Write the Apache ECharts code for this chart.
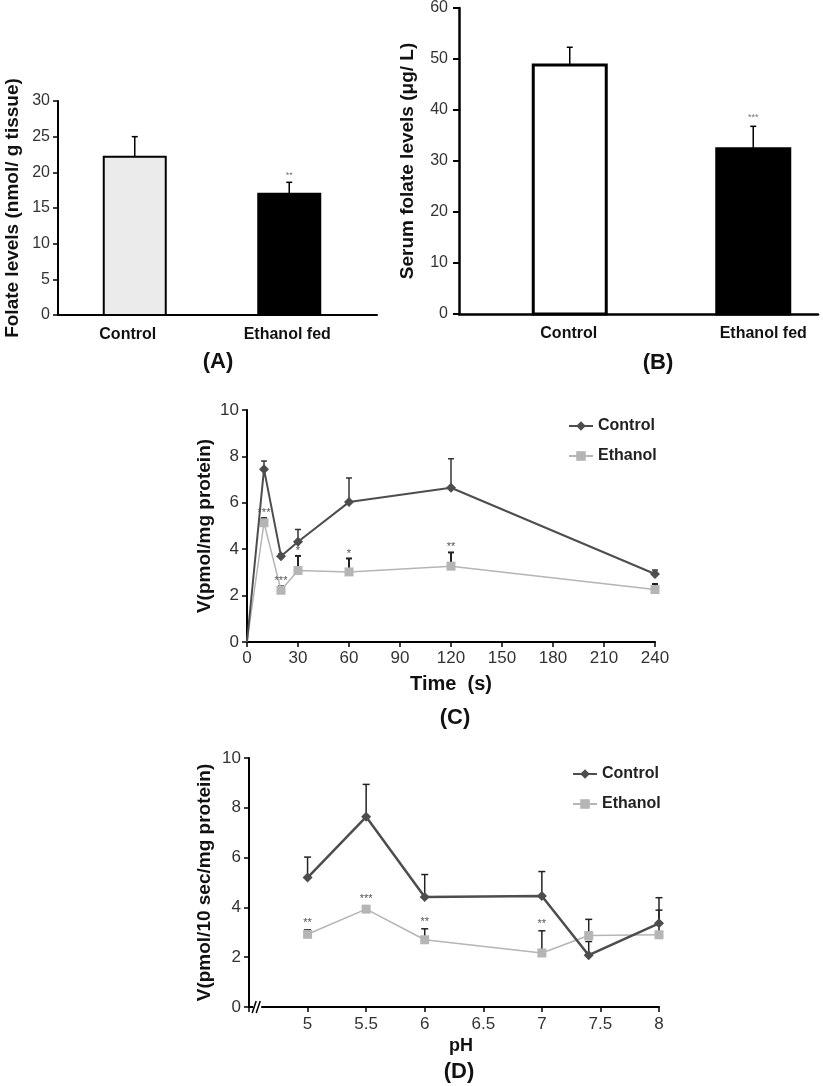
<!DOCTYPE html>
<html>
<head>
<meta charset="utf-8">
<title>Folate panels</title>
<script src="https://cdn.jsdelivr.net/npm/echarts@6/dist/echarts.min.js"></script>
<style>
  html, body { margin: 0; padding: 0; background: #fff; }
  #chart { width: 823px; height: 1086px; }
</style>
</head>
<body>
<div id="chart"></div>
<script>
// panel A - liver folate
const catsA = ['Control', 'Ethanol fed'];
const meanA = [22.2, 17.0];
const sdA = [2.8, 1.6];
const starsA = ['', '**'];

// panel B - serum folate
const catsB = ['Control', 'Ethanol fed'];
const meanB = [48.8, 32.4];
const sdB = [3.5, 4.4];
const starsB = ['', '***'];

// panel C - uptake vs time
const timeC = [0, 10, 20, 30, 60, 120, 240];
const ctrlC = [0, 7.45, 3.7, 4.32, 6.03, 6.65, 2.93];
const ctrlSdC = [0, 0.35, 0.1, 0.53, 1.04, 1.25, 0.17];
const ethC = [0, 5.14, 2.23, 3.08, 3.02, 3.27, 2.26];
const ethSdC = [0, 0.2, 0.17, 0.63, 0.58, 0.59, 0.24];
const starsC = ['', '***', '***', '*', '*', '**', '*'];

// panel D - uptake vs pH
const phD = [5, 5.5, 6, 7, 7.4, 8];
const ctrlD = [5.2, 7.64, 4.42, 4.46, 2.08, 3.36];
const ctrlSdD = [0.82, 1.3, 0.9, 0.98, 0.55, 1.03];
const ethD = [2.92, 3.93, 2.7, 2.17, 2.87, 2.9];
const ethSdD = [0.18, 0.12, 0.44, 0.89, 0.65, 0.99];
const starsD = ['**', '***', '**', '**', '', ''];

const FONT = 'Liberation Sans';
const DARK = '#4d4d4d';
const LIGHT = '#b5b5b5';

// bar look per panel
const barShiftA = [-3, -8];
const barShiftB = [21, 25];

function barRender(width, shift, fills, border) {
    return function (params, api) {
        const i = params.dataIndex;
        const top = api.coord([api.value(0), api.value(1)]);
        const base = api.coord([api.value(0), 0]);
        return {
            type: 'rect',
            shape: { x: top[0] + shift[i] - width / 2, y: top[1], width: width, height: base[1] - top[1] },
            style: { fill: fills[i], stroke: '#000', lineWidth: border }
        };
    };
}

function errRender(shift, cap, color, lw) {
    return function (params, api) {
        const sd = api.value(2);
        if (!sd) return null;
        const i = params.dataIndex;
        const dx = shift ? shift[i] : 0;
        const p = api.coord([api.value(0), api.value(1)]);
        const t = api.coord([api.value(0), api.value(1) + sd]);
        const x = p[0] + dx;
        return {
            type: 'group',
            children: [
                { type: 'line', shape: { x1: x, y1: p[1], x2: x, y2: t[1] }, style: { stroke: color, lineWidth: lw } },
                { type: 'line', shape: { x1: x - cap, y1: t[1], x2: x + cap, y2: t[1] }, style: { stroke: color, lineWidth: lw } }
            ]
        };
    };
}

function starRender(stars, shift, size, color, lift) {
    return function (params, api) {
        const i = params.dataIndex;
        if (!stars[i]) return null;
        const dx = shift ? shift[i] : 0;
        const t = api.coord([api.value(0), api.value(1) + api.value(2)]);
        return {
            type: 'text',
            x: t[0] + dx,
            y: t[1] - lift,
            style: { text: stars[i], fontSize: size, fontFamily: FONT, fill: color, align: 'center', verticalAlign: 'middle' }
        };
    };
}

function valueAxisBase(extra) {
    return Object.assign({
        splitLine: { show: false },
        axisLine: { show: true, lineStyle: { color: '#000', width: 2 } },
        axisTick: { show: true, length: 5, lineStyle: { color: '#000', width: 1.5 } },
        axisLabel: { fontFamily: FONT, fontSize: 17, color: '#333', margin: 8 },
        nameLocation: 'middle',
        nameTextStyle: { fontFamily: FONT, fontSize: 19, fontWeight: 'bold', color: '#111' }
    }, extra);
}

const triples = (xs, ys, sds) => xs.map((x, i) => [x, ys[i], sds[i]]);

const chart = echarts.init(document.getElementById('chart'));
chart.setOption({
    animation: false,
    backgroundColor: '#fff',
    textStyle: { fontFamily: FONT },
    grid: [
        { left: 58, top: 101, width: 319, height: 214 },
        { left: 459, top: 8, width: 359, height: 306 },
        { left: 247, top: 410, width: 408, height: 232 },
        { left: 249, top: 758, width: 410, height: 249 }
    ],
    xAxis: [
        {
            gridIndex: 0, type: 'category', data: catsA,
            axisLine: { lineStyle: { color: '#000', width: 2 } },
            axisTick: { length: 5, lineStyle: { color: '#000', width: 2 } },
            axisLabel: { fontFamily: FONT, fontSize: 16, fontWeight: 'bold', color: '#111', margin: 12, padding: [0, 20, 0, 0] }
        },
        {
            gridIndex: 1, type: 'category',
            data: [
                { value: catsB[0], textStyle: { padding: [0, 0, 0, 40] } },
                { value: catsB[1], textStyle: { padding: [0, 0, 0, 70] } }
            ],
            axisLine: { lineStyle: { color: '#000', width: 2.5 } },
            axisTick: { length: 5, lineStyle: { color: '#000', width: 2 } },
            axisLabel: { fontFamily: FONT, fontSize: 16, fontWeight: 'bold', color: '#111', margin: 12 }
        },
        valueAxisBase({
            gridIndex: 2, type: 'value', min: 0, max: 240, interval: 30,
            name: 'Time  (s)', nameGap: 32,
            nameTextStyle: { fontFamily: FONT, fontSize: 20, fontWeight: 'bold', color: '#111' }
        }),
        valueAxisBase({
            gridIndex: 3, type: 'value', min: 4.5, max: 8, interval: 0.5,
            axisLabel: { fontFamily: FONT, fontSize: 17, color: '#333', margin: 9, formatter: v => (v === 4.5 ? '' : v) },
            name: 'pH', nameGap: 30,
            nameTextStyle: { fontFamily: FONT, fontSize: 18, fontWeight: 'bold', color: '#111', padding: [0, 0, 0, 14] }
        })
    ],
    yAxis: [
        valueAxisBase({
            gridIndex: 0, type: 'value', min: 0, max: 30, interval: 5,
            axisLabel: { fontFamily: FONT, fontSize: 16, color: '#333', margin: 8 },
            name: 'Folate levels (nmol/ g tissue)', nameGap: 36
        }),
        valueAxisBase({
            gridIndex: 1, type: 'value', min: 0, max: 60, interval: 10,
            axisLine: { show: true, lineStyle: { color: '#000', width: 2.5 } },
            axisTick: { show: true, length: 6, lineStyle: { color: '#000', width: 2 } },
            axisLabel: { fontFamily: FONT, fontSize: 16, color: '#333', margin: 11 },
            name: 'Serum folate levels (\u03bcg/ L)', nameGap: 42
        }),
        valueAxisBase({
            gridIndex: 2, type: 'value', min: 0, max: 10, interval: 2,
            name: 'V(pmol/mg protein)', nameGap: 33
        }),
        valueAxisBase({
            gridIndex: 3, type: 'value', min: 0, max: 10, interval: 2,
            name: 'V(pmol/10 sec/mg protein)', nameGap: 35
        })
    ],
    legend: [
        {
            data: ['Control', 'Ethanol'], orient: 'vertical', left: 563, top: 413,
            itemWidth: 24, itemHeight: 12, itemGap: 14,
            textStyle: { fontFamily: FONT, fontSize: 16, fontWeight: 'bold', color: '#222' }
        },
        {
            data: ['Control', 'Ethanol'], orient: 'vertical', left: 567, top: 761,
            itemWidth: 24, itemHeight: 12, itemGap: 14,
            textStyle: { fontFamily: FONT, fontSize: 16, fontWeight: 'bold', color: '#222' }
        }
    ],
    series: [
        // A
        {
            type: 'custom', xAxisIndex: 0, yAxisIndex: 0, z: 3,
            renderItem: errRender(barShiftA, 3, '#000', 1.5),
            data: triples([0, 1], meanA, sdA)
        },
        {
            type: 'custom', xAxisIndex: 0, yAxisIndex: 0, z: 4,
            renderItem: barRender(62, barShiftA, ['#ebebeb', '#000'], 2),
            data: meanA.map((v, i) => [i, v])
        },
        {
            type: 'custom', xAxisIndex: 0, yAxisIndex: 0, z: 4,
            renderItem: starRender(starsA, barShiftA, 9, '#777', 7),
            data: triples([0, 1], meanA, sdA)
        },
        // B
        {
            type: 'custom', xAxisIndex: 1, yAxisIndex: 1, z: 3,
            renderItem: errRender(barShiftB, 3, '#000', 1.5),
            data: triples([0, 1], meanB, sdB)
        },
        {
            type: 'custom', xAxisIndex: 1, yAxisIndex: 1, z: 4,
            renderItem: barRender(73, barShiftB, ['#fff', '#000'], 3),
            data: meanB.map((v, i) => [i, v])
        },
        {
            type: 'custom', xAxisIndex: 1, yAxisIndex: 1, z: 4,
            renderItem: starRender(starsB, barShiftB, 9, '#777', 9),
            data: triples([0, 1], meanB, sdB)
        },
        // C
        {
            type: 'custom', xAxisIndex: 2, yAxisIndex: 2, z: 1,
            renderItem: errRender(null, 3, '#333', 1.5),
            data: triples(timeC, ctrlC, ctrlSdC)
        },
        {
            type: 'custom', xAxisIndex: 2, yAxisIndex: 2, z: 1,
            renderItem: errRender(null, 3, '#222', 2),
            data: triples(timeC, ethC, ethSdC)
        },
        {
            name: 'Control', type: 'line', xAxisIndex: 2, yAxisIndex: 2, z: 3,
            symbol: 'diamond', symbolSize: 10,
            lineStyle: { color: DARK, width: 2 }, itemStyle: { color: DARK },
            data: timeC.map((t, i) => (i === 0 ? { value: [t, ctrlC[i]], symbol: 'none' } : [t, ctrlC[i]]))
        },
        {
            name: 'Ethanol', type: 'line', xAxisIndex: 2, yAxisIndex: 2, z: 2,
            symbol: 'rect', symbolSize: 9,
            lineStyle: { color: LIGHT, width: 1.5 }, itemStyle: { color: LIGHT },
            data: timeC.map((t, i) => (i === 0 ? { value: [t, ethC[i]], symbol: 'none' } : [t, ethC[i]]))
        },
        {
            type: 'custom', xAxisIndex: 2, yAxisIndex: 2, z: 4,
            renderItem: starRender(starsC, null, 11, '#555', 5),
            data: triples(timeC, ethC, ethSdC)
        },
        // D
        {
            type: 'custom', xAxisIndex: 3, yAxisIndex: 3, z: 1,
            renderItem: errRender(null, 3.5, '#222', 1.5),
            data: triples(phD, ctrlD, ctrlSdD)
        },
        {
            type: 'custom', xAxisIndex: 3, yAxisIndex: 3, z: 1,
            renderItem: errRender(null, 3.5, '#222', 1.5),
            data: triples(phD, ethD, ethSdD)
        },
        {
            name: 'Control', type: 'line', xAxisIndex: 3, yAxisIndex: 3, z: 3,
            symbol: 'diamond', symbolSize: 10,
            lineStyle: { color: DARK, width: 2.5 }, itemStyle: { color: DARK },
            data: phD.map((p, i) => [p, ctrlD[i]])
        },
        {
            name: 'Ethanol', type: 'line', xAxisIndex: 3, yAxisIndex: 3, z: 2,
            symbol: 'rect', symbolSize: 9,
            lineStyle: { color: LIGHT, width: 1.5 }, itemStyle: { color: LIGHT },
            data: phD.map((p, i) => [p, ethD[i]])
        },
        {
            type: 'custom', xAxisIndex: 3, yAxisIndex: 3, z: 4,
            renderItem: starRender(starsD, null, 11, '#555', 7),
            data: triples(phD, ethD, ethSdD)
        },
        // axis break marks on D
        {
            type: 'custom', xAxisIndex: 3, yAxisIndex: 3, z: 10,
            renderItem: function (params, api) {
                const p = api.coord([api.value(0), api.value(1)]);
                return {
                    type: 'group',
                    children: [
                        { type: 'rect', shape: { x: p[0] - 4, y: p[1] - 3, width: 8, height: 6 }, style: { fill: '#fff' } },
                        { type: 'line', shape: { x1: p[0] - 5, y1: p[1] + 6, x2: p[0] - 1, y2: p[1] - 6 }, style: { stroke: '#000', lineWidth: 1.5 } },
                        { type: 'line', shape: { x1: p[0] - 1, y1: p[1] + 6, x2: p[0] + 3, y2: p[1] - 6 }, style: { stroke: '#000', lineWidth: 1.5 } }
                    ]
                };
            },
            data: [[4.57, 0]]
        }
    ],
    graphic: [
        { type: 'text', x: 218, y: 362, style: { text: '(A)', fontFamily: FONT, fontSize: 22, fontWeight: 'bold', fill: '#111', align: 'center', verticalAlign: 'middle' } },
        { type: 'text', x: 658, y: 363, style: { text: '(B)', fontFamily: FONT, fontSize: 22, fontWeight: 'bold', fill: '#111', align: 'center', verticalAlign: 'middle' } },
        { type: 'text', x: 455, y: 718, style: { text: '(C)', fontFamily: FONT, fontSize: 22, fontWeight: 'bold', fill: '#111', align: 'center', verticalAlign: 'middle' } },
        { type: 'text', x: 459, y: 1072, style: { text: '(D)', fontFamily: FONT, fontSize: 22, fontWeight: 'bold', fill: '#111', align: 'center', verticalAlign: 'middle' } }
    ]
});
</script>
</body>
</html>
